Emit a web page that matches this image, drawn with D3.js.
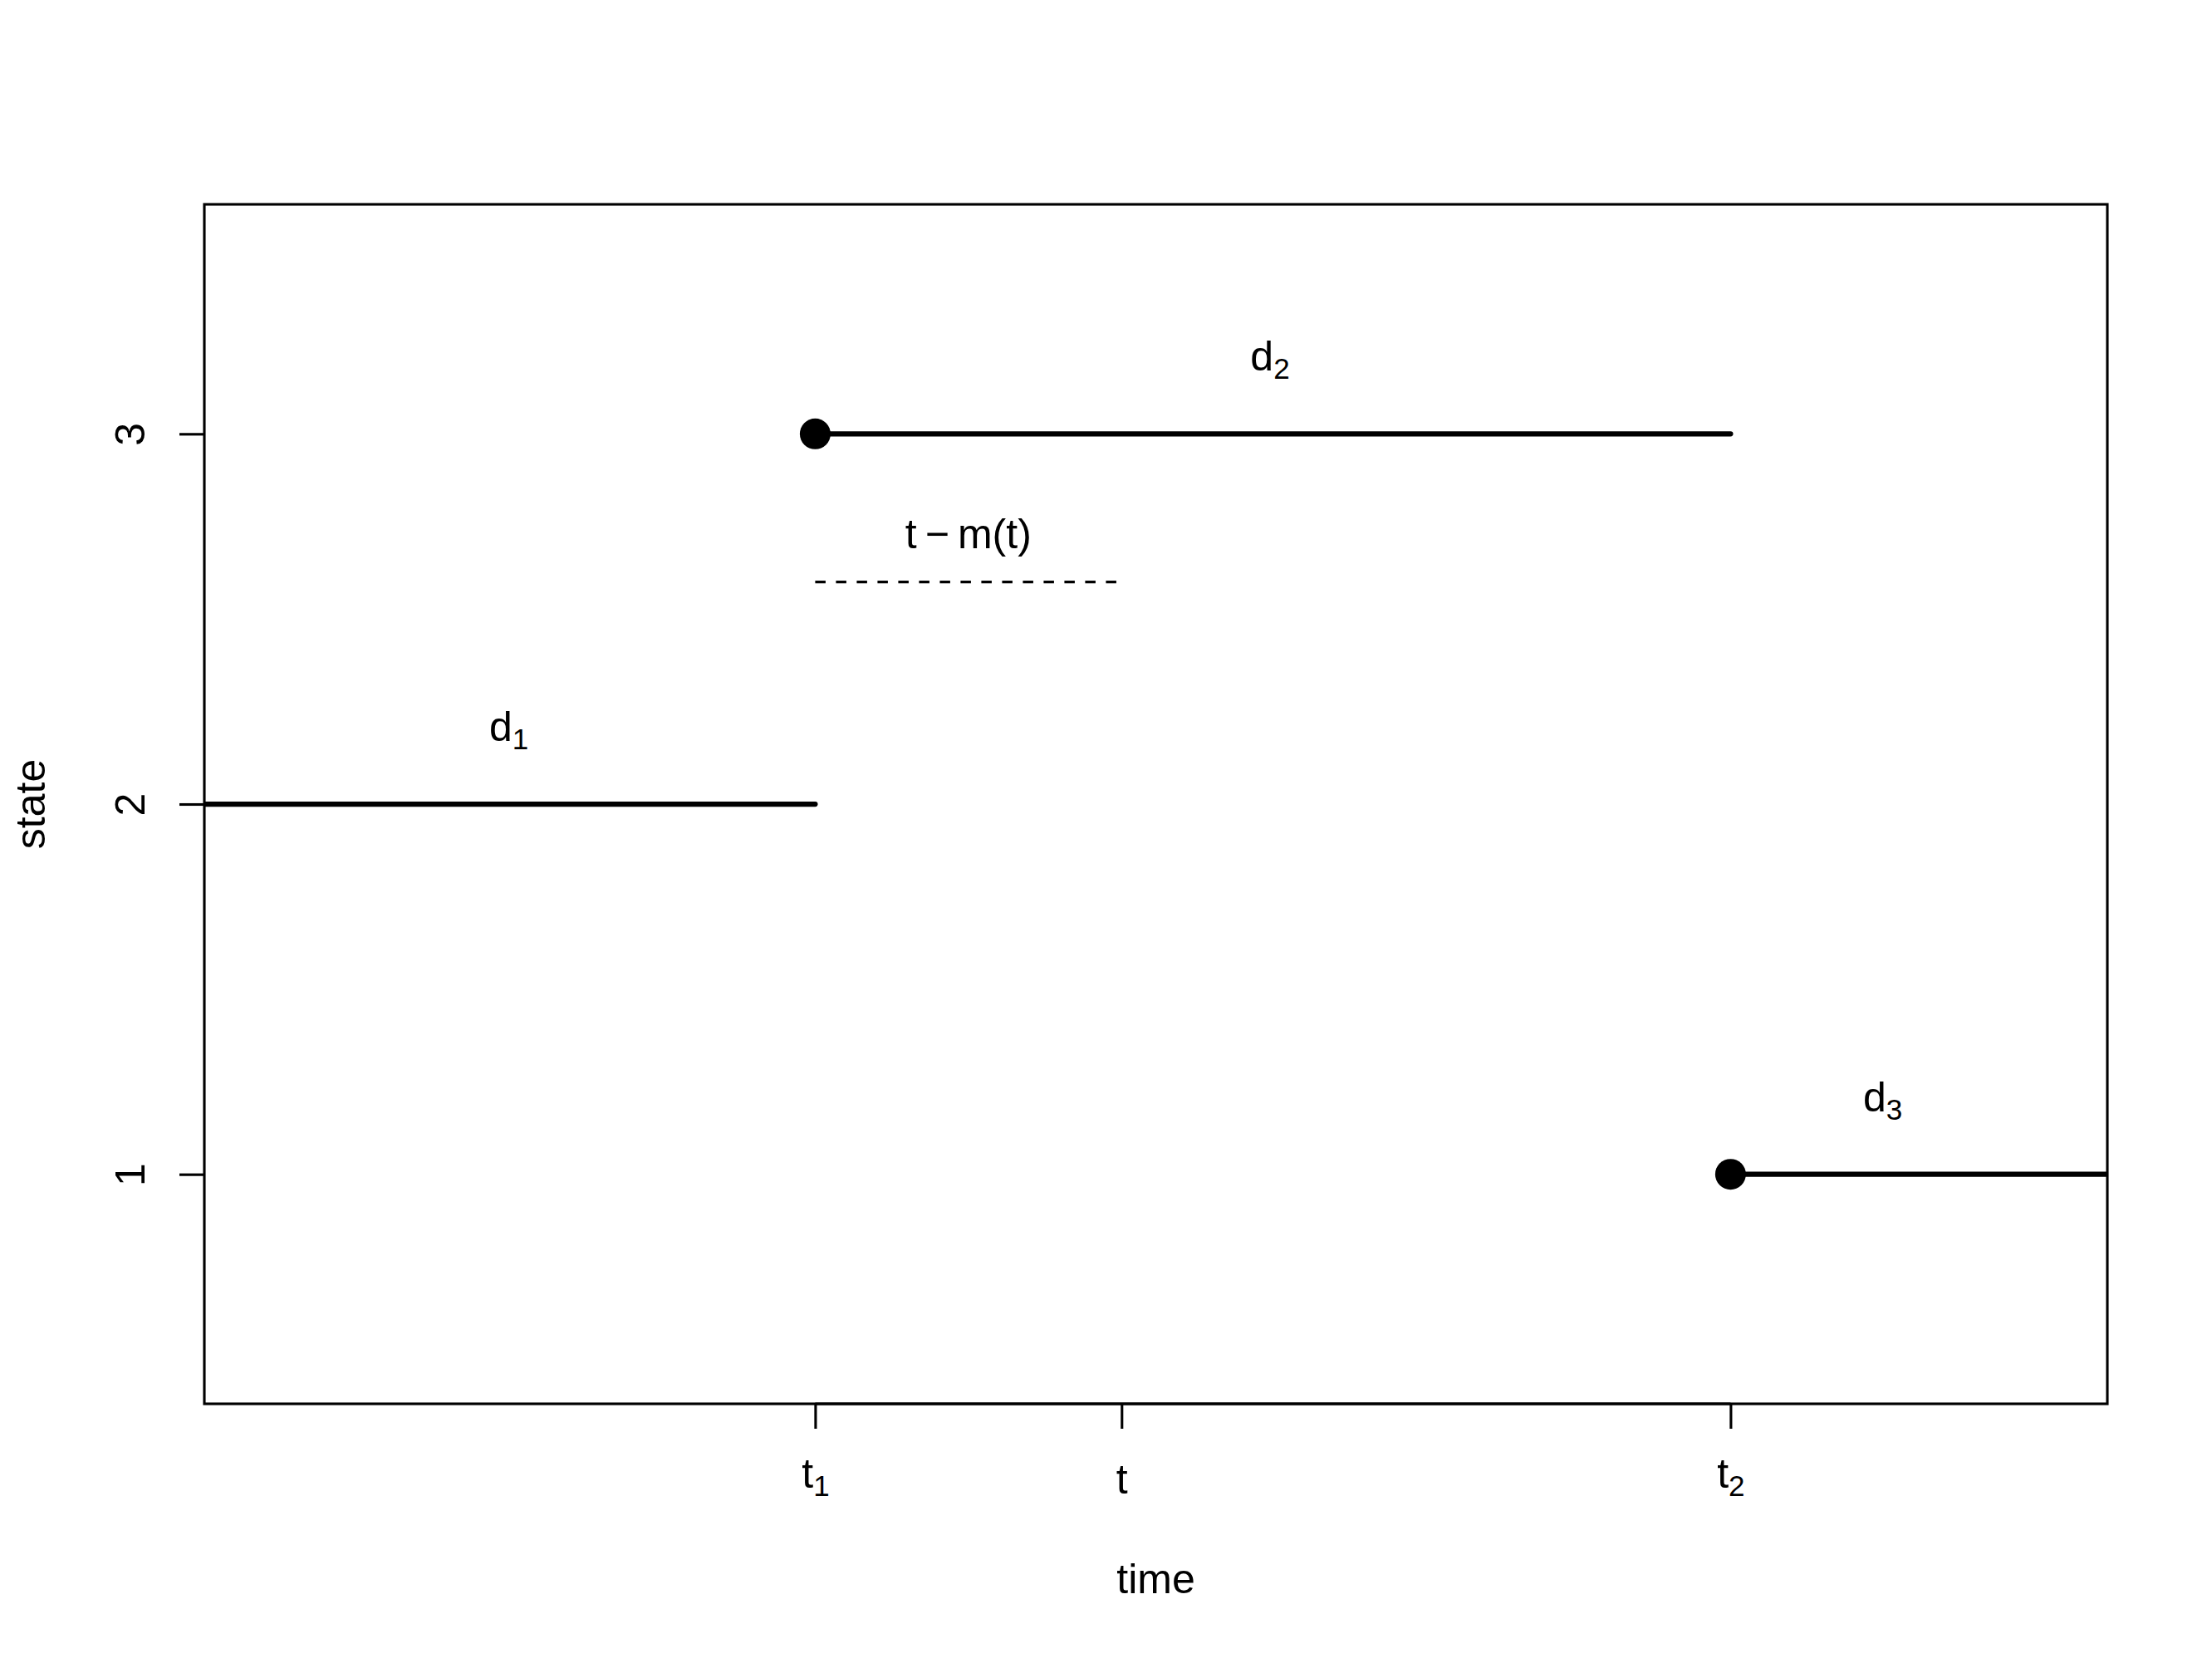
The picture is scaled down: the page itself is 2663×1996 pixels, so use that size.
<!DOCTYPE html>
<html>
<head>
<meta charset="utf-8">
<script src="https://cdn.jsdelivr.net/npm/d3@7"></script>
<style>
  body { margin: 0; background: #fff; }
  text { font-family: "Liberation Sans", Arial, Helvetica, sans-serif; fill: #000; }
</style>
</head>
<body>
<svg width="2663" height="1996"></svg>
<script>
// state sequence: each spell runs from start to end at a given state
var spellStart = [0, 3.21, 8.02];
var spellEnd = [3.21, 8.02, 10];
var spellState = [2, 3, 1];

// transitions marked with a dot
var jumpTime = [3.21, 8.02];
var jumpState = [3, 1];

// duration labels d1, d2, d3
var durSub = ["1", "2", "3"];
var durX = [1.6, 5.6, 8.82];
var durY = [2.2, 3.2, 1.2];

// backward recurrence time t - m(t)
var gapFrom = 3.21, gapTo = 4.82, gapY = 2.6, gapLabelY = 2.72;

// axis ticks
var xTicks = [3.21, 4.82, 8.02];
var xTickSub = ["1", "", "2"];
var yTicks = [1, 2, 3];

var svg = d3.select("svg");
var W = +svg.attr("width"), H = +svg.attr("height");
var line = 60;   // one margin line, px
var margin = {top: 4.1 * line, right: 2.1 * line, bottom: 5.1 * line, left: 4.1 * line};
var lwd = 3.125;

var x = d3.scaleLinear()
    .domain([0, 10])
    .range([margin.left, W - margin.right]);

var y = d3.scaleLinear()
    .domain([0.38, 3.62])
    .range([H - margin.bottom, margin.top]);

svg.append("defs").append("clipPath")
    .attr("id", "plotclip")
  .append("rect")
    .attr("x", x.range()[0])
    .attr("y", y.range()[1])
    .attr("width", x.range()[1] - x.range()[0])
    .attr("height", y.range()[0] - y.range()[1]);

var plot = svg.append("g").attr("clip-path", "url(#plotclip)");

// spells
plot.selectAll(".spell")
    .data(spellState)
    .enter().append("line")
    .attr("class", "spell")
    .attr("x1", function(d, i) { return x(spellStart[i]); })
    .attr("x2", function(d, i) { return x(spellEnd[i]); })
    .attr("y1", function(d) { return y(d); })
    .attr("y2", function(d) { return y(d); })
    .attr("stroke", "#000")
    .attr("stroke-width", 2 * lwd)
    .attr("stroke-linecap", "round");

plot.selectAll(".jump")
    .data(jumpTime)
    .enter().append("circle")
    .attr("class", "jump")
    .attr("cx", function(d) { return x(d); })
    .attr("cy", function(d, i) { return y(jumpState[i]); })
    .attr("r", 18.5)
    .attr("fill", "#000");

// dashed gap
plot.append("line")
    .attr("x1", x(gapFrom))
    .attr("x2", x(gapTo))
    .attr("y1", y(gapY))
    .attr("y2", y(gapY))
    .attr("stroke", "#000")
    .attr("stroke-width", lwd)
    .attr("stroke-dasharray", "12.5,12.5");

var gl = svg.append("text")
    .attr("x", x((gapFrom + gapTo) / 2))
    .attr("y", y(gapLabelY) + 13)
    .attr("text-anchor", "middle")
    .style("font-size", "50px");
gl.append("tspan").text("t\u2009\u2212\u2009m(t)");

// duration labels
durSub.forEach(function(s, i) {
    var t = svg.append("text")
        .attr("x", x(durX[i]))
        .attr("y", y(durY[i]) + 13)
        .attr("text-anchor", "middle")
        .style("font-size", "50px");
    t.append("tspan").text("d");
    t.append("tspan").attr("dy", 10).style("font-size", "35px").text(s);
});

// box
svg.append("rect")
    .attr("x", x.range()[0])
    .attr("y", y.range()[1])
    .attr("width", x.range()[1] - x.range()[0])
    .attr("height", y.range()[0] - y.range()[1])
    .attr("fill", "none")
    .attr("stroke", "#000")
    .attr("stroke-width", lwd);

// x axis
var gx = svg.append("g")
    .attr("transform", "translate(0," + y.range()[0] + ")")
    .call(d3.axisBottom(x).tickValues(xTicks).tickSize(30).tickFormat(""));
gx.select(".domain").remove();
gx.selectAll(".tick line").attr("stroke-width", lwd);
gx.append("line")
    .attr("x1", x(xTicks[0])).attr("x2", x(xTicks[xTicks.length - 1]))
    .attr("stroke", "#000").attr("stroke-width", lwd);
gx.selectAll(".tick").each(function(d, i) {
    var t = d3.select(this).append("text")
        .attr("y", xTickSub[i] ? 1.8 * line - 7 : 1.8 * line)
        .attr("text-anchor", "middle")
        .attr("fill", "#000")
        .style("font-size", "50px");
    t.append("tspan").text("t");
    if (xTickSub[i]) t.append("tspan").attr("dy", 10).style("font-size", "35px").text(xTickSub[i]);
});

// y axis
var gy = svg.append("g")
    .attr("transform", "translate(" + x.range()[0] + ",0)")
    .call(d3.axisLeft(y).tickValues(yTicks).tickSize(30).tickFormat(""));
gy.select(".domain").remove();
gy.selectAll(".tick line").attr("stroke-width", lwd);
gy.selectAll(".tick").append("text")
    .attr("transform", "translate(" + (-1.2 * line) + ",0) rotate(-90)")
    .attr("text-anchor", "middle")
    .attr("fill", "#000")
    .style("font-size", "50px")
    .text(function(d) { return d; });

// axis titles
svg.append("text")
    .attr("x", (x.range()[0] + x.range()[1]) / 2)
    .attr("y", y.range()[0] + 3.8 * line)
    .attr("text-anchor", "middle")
    .style("font-size", "50px")
    .text("time");

svg.append("text")
    .attr("transform", "translate(" + (x.range()[0] - 3.2 * line) + "," + (y.range()[0] + y.range()[1]) / 2 + ") rotate(-90)")
    .attr("text-anchor", "middle")
    .style("font-size", "50px")
    .text("state");
</script>
</body>
</html>
